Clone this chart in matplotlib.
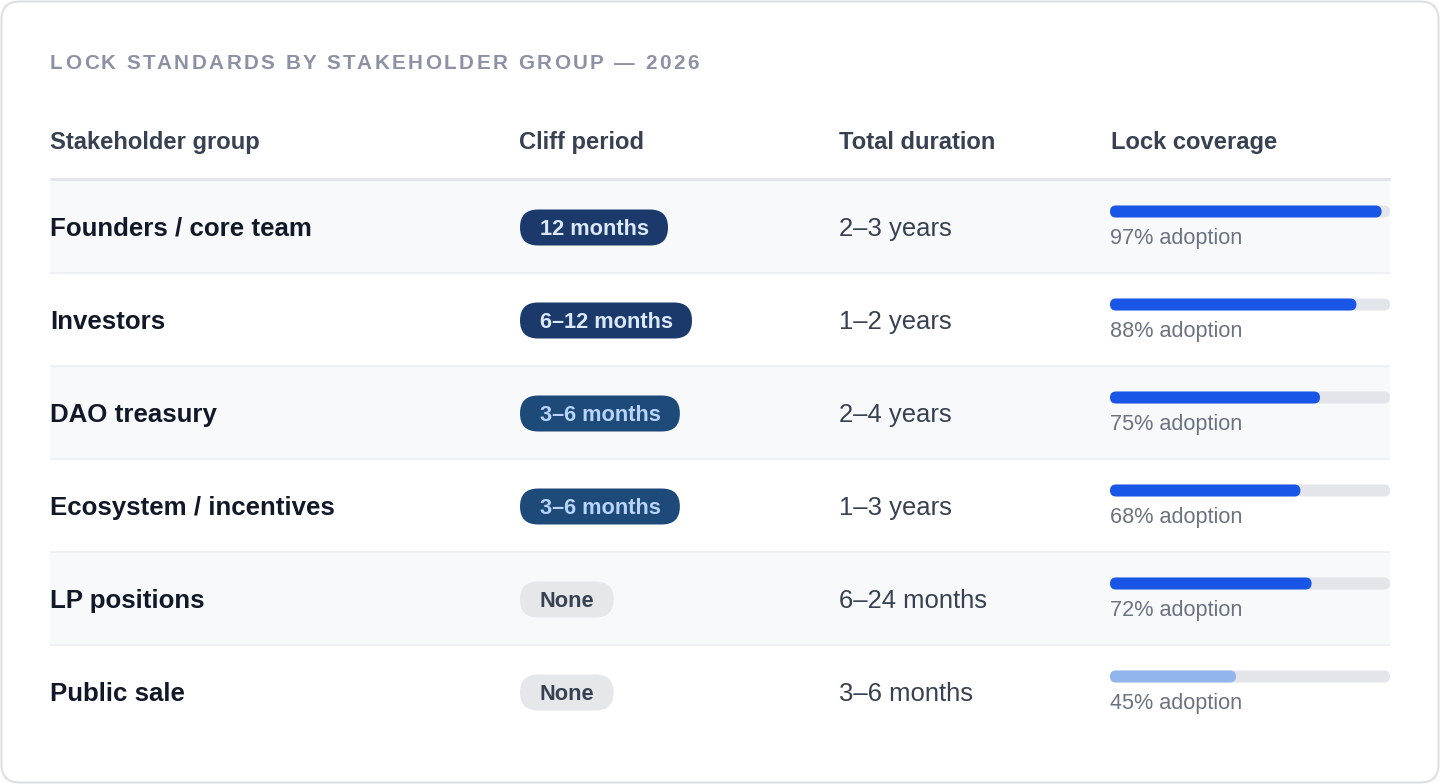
import matplotlib
matplotlib.use('Agg')
import matplotlib.pyplot as plt
from matplotlib.patches import FancyBboxPatch, Rectangle

#%% Data
title = 'LOCK STANDARDS BY STAKEHOLDER GROUP \u2014 2026'
headers = ['Stakeholder group', 'Cliff period', 'Total duration', 'Lock coverage']
groups = ['Founders / core team', 'Investors', 'DAO treasury',
          'Ecosystem / incentives', 'LP positions', 'Public sale']
cliffs = ['12 months', '6\u201312 months', '3\u20136 months', '3\u20136 months', 'None', 'None']
cliff_tier = ['long', 'long', 'mid', 'mid', 'none', 'none']
durations = ['2\u20133 years', '1\u20132 years', '2\u20134 years',
             '1\u20133 years', '6\u201324 months', '3\u20136 months']
coverage = [97, 88, 75, 68, 72, 45]

#%% Style
plt.rcParams['font.family'] = ['Liberation Sans', 'DejaVu Sans']
PX = 0.72  # px -> pt at dpi 100

pill_style = {
    'long': ('#1b3a6b', '#dce8fb'),
    'mid': ('#1e4a7a', '#b9d4fb'),
    'none': ('#e5e7eb', '#374151'),
}

col_x = [50, 519, 839, 1111]
row_top0 = 180
row_h = 93
left, right = 50, 1390
bar_x0, bar_w, bar_h = 1110, 280, 12

fig = plt.figure(figsize=(14.4, 7.84), dpi=100)
ax = fig.add_axes([0, 0, 1, 1])
ax.set_xlim(0, 1440)
ax.set_ylim(784, 0)
ax.axis('off')
renderer = fig.canvas.get_renderer()

# card
ax.add_patch(FancyBboxPatch((1.5, 1.5), 1437, 781, boxstyle='round,pad=0,rounding_size=18',
                            fc='white', ec='#dddfe4', lw=1.5))

# title with letter spacing
title_px = 20.6
fs_title = title_px * PX
spacing = 2.5
for i, ch in enumerate(title):
    pre = ax.text(0, 0, title[:i + 1], fontsize=fs_title, fontweight='bold')
    w = pre.get_window_extent(renderer).width
    pre.remove()
    if ch != ' ':
        ax.text(50 + w + i * spacing, 62 + 0.716 * title_px / 2, ch, fontsize=fs_title,
                fontweight='bold', color='#8d91a5', ha='right', va='baseline')

# headers
for hx, h in zip(col_x, headers):
    ax.text(hx, 140 + 0.716 * 24 / 2, h, fontsize=23.8 * PX, fontweight='bold',
            color='#374151', ha='left', va='baseline')
ax.plot([left, right], [179, 179], color='#e2e4e9', lw=2, solid_capstyle='butt')

# rows
for i in range(len(groups)):
    top = row_top0 + i * row_h
    cy = top + row_h / 2
    if i % 2 == 0:
        ax.add_patch(Rectangle((left, top), right - left, row_h - 1, fc='#f8f9fb', ec='none'))
    if i < len(groups) - 1:
        ax.plot([left, right], [top + row_h - 0.5, top + row_h - 0.5], color='#eef0f3', lw=1.5,
                solid_capstyle='butt')

    ax.text(col_x[0], cy + 0.716 * 25.7 / 2, groups[i], fontsize=25.9 * PX,
            fontweight='bold', color='#111827', ha='left', va='baseline')

    # pill
    bg, fg = pill_style[cliff_tier[i]]
    t = ax.text(0, 0, cliffs[i], fontsize=21.8 * PX, fontweight='bold')
    tw = t.get_window_extent(renderer).width
    t.remove()
    px0, ph = 520, 36
    pw = tw + 39
    ax.add_patch(FancyBboxPatch((px0, cy + 1 - ph / 2), pw, ph,
                                boxstyle='round,pad=0,rounding_size=18', fc=bg, ec='none'))
    ax.text(px0 + pw / 2, cy + 1 + 0.716 * 21.8 / 2, cliffs[i], fontsize=21.8 * PX,
            fontweight='bold', color=fg, ha='center', va='baseline')

    ax.text(col_x[2], cy + 0.716 * 25.6 / 2, durations[i], fontsize=25.6 * PX,
            color='#374151', ha='left', va='baseline')

    # coverage bar
    by = cy - 21
    ax.add_patch(FancyBboxPatch((bar_x0, by), bar_w, bar_h,
                                boxstyle='round,pad=0,rounding_size=6', fc='#e4e5ea', ec='none'))
    fill = '#1a56e6' if coverage[i] >= 50 else '#93b5ed'
    ax.add_patch(FancyBboxPatch((bar_x0, by), bar_w * coverage[i] / 100, bar_h,
                                boxstyle='round,pad=0,rounding_size=6', fc=fill, ec='none'))
    ax.text(bar_x0, cy + 10 + 0.716 * 21.7 / 2, '%d%% adoption' % coverage[i],
            fontsize=21.7 * PX, color='#6b7280', ha='left', va='baseline')

fig.savefig('out.png', dpi=100)
